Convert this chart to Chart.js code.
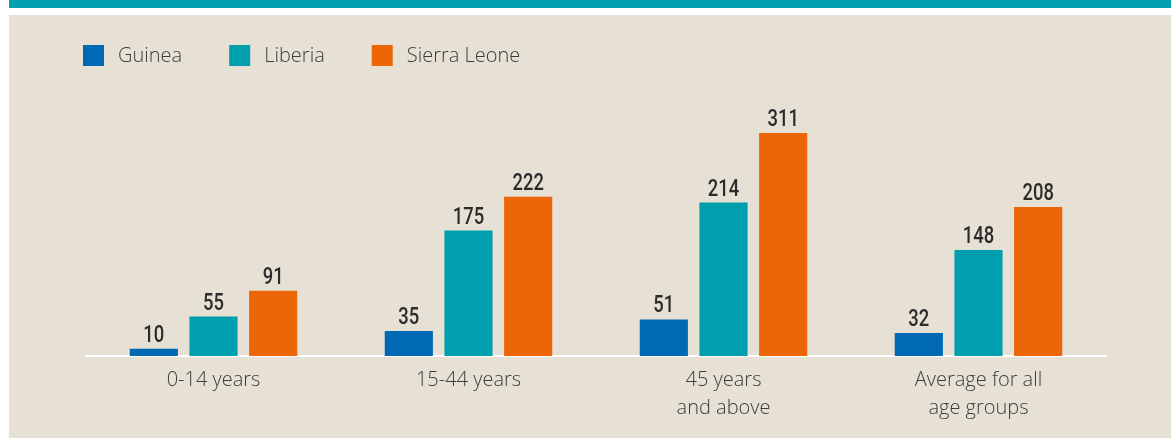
<!DOCTYPE html>
<html>
<head>
<meta charset="utf-8">
<script src="https://cdn.jsdelivr.net/npm/chart.js@4/dist/chart.umd.min.js"></script>
<style>
  html, body { margin: 0; padding: 0; background: #ffffff; width: 1171px; height: 438px; overflow: hidden; }
  #topbar { position: absolute; left: 9px; top: 0; width: 1162px; height: 8px; background: #00a0ae; }
  #panel { position: absolute; left: 9px; top: 15px; width: 1162px; height: 423px; background: #e7e1d5; }
  #wrap { position: absolute; left: 0; top: 0; width: 1171px; height: 438px; }
</style>
</head>
<body>
<div id="topbar"></div>
<div id="panel"></div>
<div id="wrap"><canvas id="c" width="1171" height="438"></canvas></div>
<script>
const categories = [["0-14 years"], ["15-44 years"], ["45 years", "and above"], ["Average for all", "age groups"]];
const seriesNames = ["Guinea", "Liberia", "Sierra Leone"];
const guinea = [10, 35, 51, 32];
const liberia = [55, 175, 214, 148];
const sierraLeone = [91, 222, 311, 208];
const colors = ["#0069b4", "#009fae", "#ec6608"];

const LIGHT_FONT = "'Open Sans', 'Noto Sans', 'DejaVu Sans', sans-serif";
const BOLD_FONT = "Roboto, 'Noto Sans', sans-serif";

const valueLabels = {
  id: 'valueLabels',
  afterDatasetsDraw(chart) {
    const ctx = chart.ctx;
    chart.data.datasets.forEach((ds, di) => {
      const meta = chart.getDatasetMeta(di);
      meta.data.forEach((bar, i) => {
        ctx.save();
        ctx.font = "500 23px " + BOLD_FONT;
        ctx.fillStyle = "#2b2b2b";
        ctx.textAlign = "center";
        ctx.textBaseline = "alphabetic";
        ctx.translate(bar.x, bar.y - 7);
        ctx.scale(0.8, 1);
        ctx.fillText(String(ds.data[i]), 0, 0);
        ctx.restore();
      });
    });
  }
};

const customLegend = {
  id: 'customLegend',
  afterDraw(chart) {
    const ctx = chart.ctx;
    ctx.save();
    ctx.font = "300 20px " + LIGHT_FONT;
    ctx.textBaseline = "middle";
    ctx.textAlign = "left";
    let x = 83;
    const y = 45, box = 21;
    chart.data.datasets.forEach(ds => {
      ctx.fillStyle = ds.backgroundColor;
      ctx.fillRect(x, y, box, box);
      ctx.fillStyle = "#3c3c3c";
      ctx.fillText(ds.label, x + box + 14, y + box / 2 + 1);
      x += box + 14 + ctx.measureText(ds.label).width + 47;
    });
    ctx.restore();
  }
};

const datasets = [guinea, liberia, sierraLeone].map((d, i) => ({
  label: seriesNames[i],
  data: d,
  backgroundColor: colors[i],
  borderWidth: 0,
  categoryPercentage: 0.702,
  barPercentage: 0.807
}));

new Chart(document.getElementById('c'), {
  type: 'bar',
  data: { labels: categories, datasets },
  options: {
    responsive: false,
    animation: false,
    layout: { padding: { left: 86, right: 65, top: 80, bottom: 0 } },
    plugins: { legend: { display: false }, tooltip: { enabled: false } },
    scales: {
      x: {
        grid: { display: false, drawTicks: false },
        border: { display: true, color: '#ffffff', width: 2 },
        ticks: {
          color: '#3c3c3c',
          font: { family: LIGHT_FONT, size: 20, weight: '300', lineHeight: 1.4 },
          padding: 10,
          maxRotation: 0,
          autoSkip: false
        },
        afterFit(scale) { scale.height = 82; }
      },
      y: {
        display: false,
        min: 0,
        max: 385
      }
    }
  },
  plugins: [valueLabels, customLegend]
});
</script>
</body>
</html>
